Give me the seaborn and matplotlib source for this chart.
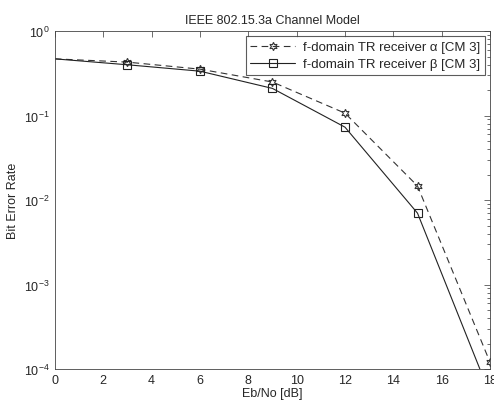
import matplotlib
matplotlib.use("Agg")
import matplotlib.pyplot as plt
import seaborn as sns
import numpy as np

ebno = [0, 3, 6, 9, 12, 15, 18]
ber_alpha = [0.47, 0.43, 0.355, 0.25, 0.107, 0.0147, 1.2e-4]
ber_beta = [0.47, 0.40, 0.336, 0.21, 0.073, 0.0070, 5e-5]
label_alpha = "f-domain TR receiver \u03b1 [CM 3]"
label_beta = "f-domain TR receiver \u03b2 [CM 3]"
xticks = [0, 2, 4, 6, 8, 10, 12, 14, 16, 18]
yticks = [1e-4, 1e-3, 1e-2, 1e-1, 1e0]

sns.set_style("white")
plt.rcParams['font.family'] = ['Liberation Sans', 'DejaVu Sans']
plt.rcParams['mathtext.default'] = 'regular'

fig = plt.figure(figsize=(4.94, 4.02), dpi=100)
ax = fig.add_axes([0.111, 0.0796, 0.881, 0.8404])

sns.lineplot(x=ebno, y=ber_alpha, ax=ax, color='#333333', linewidth=0.8,
             marker=(6, 1, 0), markersize=6, markerfacecolor='none',
             markeredgecolor='#333333', markeredgewidth=0.8,
             markevery=[1, 2, 3, 4, 5, 6], label=label_alpha,
             dashes=False)
ax.lines[-1].set_dashes([6, 4])
sns.lineplot(x=ebno, y=ber_beta, ax=ax, color='#222222', linewidth=0.8,
             marker='s', markersize=5.5, markerfacecolor='none',
             markeredgecolor='#222222', markeredgewidth=0.8,
             markevery=[1, 2, 3, 4, 5, 6], label=label_beta)

ax.set_yscale('log')
ax.set_xlim(0, 18)
ax.set_ylim(1e-4, 1e0)
ax.set_xticks(xticks)
ax.set_xticklabels([str(t) for t in xticks])
ax.set_yticks(yticks)
ax.tick_params(direction='in', which='both', top=True, right=True,
               labelsize=9, length=4, width=0.6, color='#555555')
ax.tick_params(which='minor', length=2)
for s in ax.spines.values():
    s.set_linewidth(0.6)
    s.set_color('#444444')

ax.set_title("IEEE 802.15.3a Channel Model", fontsize=9, pad=6)
ax.set_xlabel("Eb/No [dB]", fontsize=9, labelpad=1)
ax.set_ylabel("Bit Error Rate", fontsize=9, labelpad=4)

leg = ax.legend(loc='upper right', fontsize=9.5, frameon=True, fancybox=False,
                edgecolor='#333333', handlelength=3.4, borderaxespad=0.4,
                borderpad=0.35, labelspacing=0.35, handletextpad=0.6)
leg.get_frame().set_linewidth(0.8)

fig.savefig("out.png", dpi=100)
